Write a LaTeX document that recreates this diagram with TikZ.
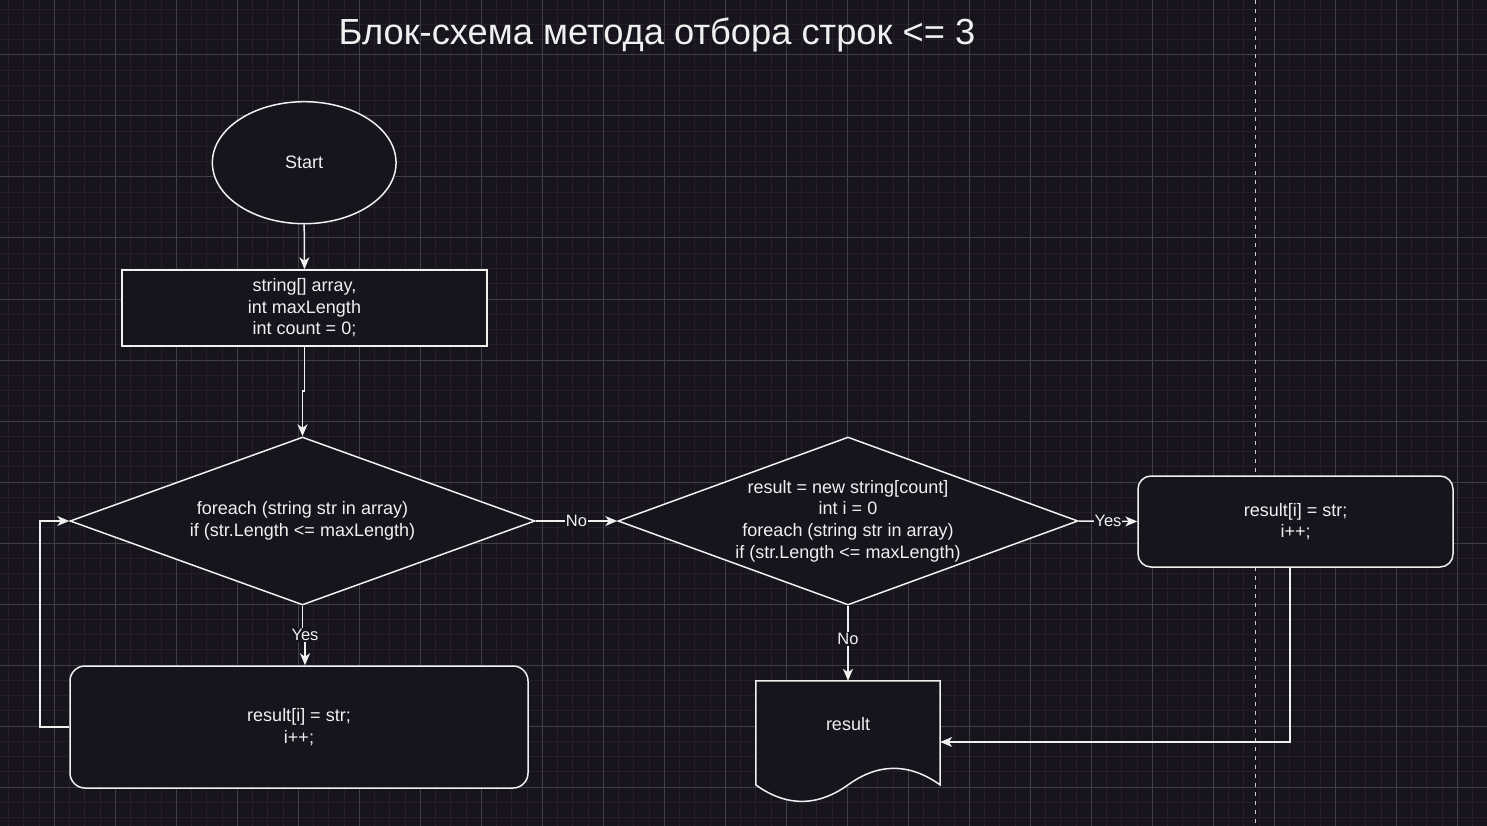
\documentclass[tikz,border=0pt]{standalone}
\usepackage{fontspec}
\setmainfont{Liberation Sans}
\usetikzlibrary{shapes.geometric,arrows.meta,calc}
\definecolor{bg}{HTML}{18141D}
\definecolor{fg}{HTML}{F0F0F0}
\definecolor{minorgrid}{HTML}{241F29}
\definecolor{majorgrid}{HTML}{423E47}
\tikzset{
  box/.style={draw=fg,fill=bg,line width=1.5pt,text=fg,align=center,inner sep=0pt,
    font=\fontsize{18}{21.6}\selectfont},
  conn/.style={draw=fg,line width=1.5pt,-{Stealth[length=12pt,width=10pt,inset=3.5pt]}},
  plain/.style={draw=fg,line width=1.5pt},
  lbl/.style={fill=bg,text=fg,inner sep=1pt,font=\fontsize{16.5}{19}\selectfont},
}
\begin{document}
\begin{tikzpicture}[x=1pt,y=-1pt]
\useasboundingbox (0,0) rectangle (1487,826);
\fill[bg] (0,0) rectangle (1487,826);
% grid
\foreach \i in {0,...,98} \draw[minorgrid,line width=1pt] ({-6.7+15.25*\i},0) -- ({-6.7+15.25*\i},826);
\foreach \i in {0,...,55} \draw[minorgrid,line width=1pt] (0,{-6+15.25*\i}) -- (1487,{-6+15.25*\i});
\foreach \i in {0,...,25} \draw[majorgrid,line width=1pt] ({-6.7+61*\i},0) -- ({-6.7+61*\i},826);
\foreach \i in {0,...,14} \draw[majorgrid,line width=1pt] (0,{-6+61*\i}) -- (1487,{-6+61*\i});
% dashed divider
\draw[fg!85!bg,line width=1.5pt,dash pattern=on 4pt off 5pt] (1255.3,0) -- (1255.3,826);

% title
\node[text=fg,font=\fontsize{36.3}{40}\selectfont,inner sep=0pt] (title) at (657,35) {Блок-схема метода отбора строк <= 3};

% nodes
\node[box,ellipse,minimum width=183.7pt,minimum height=122pt] (start) at (304.2,162.7) {Start};
\node[box,rectangle,minimum width=365pt,minimum height=76pt] (init) at (304.5,308) {string[] array,\\int maxLength\\int count = 0;};
\node[box,diamond,minimum width=465pt,minimum height=168pt,aspect=2.77] (d1) at (302.5,521) {foreach (string str in array)\\if (str.Length <= maxLength)};
\node[box,rectangle,rounded corners=15pt,minimum width=458pt,minimum height=122pt] (body1) at (299,727) {result[i] = str;\\i++;};
\node[box,diamond,minimum width=460pt,minimum height=168pt,aspect=2.74] (d2) at (848,521) {result = new string[count]\\int i = 0\\foreach (string str in array)\\if (str.Length <= maxLength)};
\node[box,rectangle,rounded corners=13pt,minimum width=315pt,minimum height=91pt] (body2) at (1295.5,521.5) {result[i] = str;\\i++;};
% document shape
\node[rectangle,inner sep=0pt,minimum width=184pt,minimum height=122pt] (doc) at (848,742) {};
\filldraw[plain,fill=bg,line join=miter] (doc.north west) -- (doc.north east) -- ([yshift=18.3pt]doc.south east)
  .. controls ($(doc.south west)+(153.3,-40.4)$) and ($(doc.south west)+(122.7,-40.4)$) .. ([yshift=18.3pt]doc.south)
  .. controls ($(doc.south west)+(61.3,3.7)$) and ($(doc.south west)+(30.7,3.7)$) .. ([yshift=18.3pt]doc.south west) -- cycle;
\node[text=fg,font=\fontsize{18}{21.6}\selectfont,inner sep=0pt] (doclabel) at (848,724) {result};

% connectors
\draw[conn] (start.south) -- (init.north);
\coordinate (j1) at (304.5,391);
\coordinate (j2) at (302.5,391);
\draw[conn] (init.south) -- (j1) -- (j2) -- (d1.north);
\coordinate (y1) at (302.5,635);
\coordinate (y2) at (305,635);
\draw[conn] (d1.south) -- (y1) -- (y2) -- (y2 |- body1.north);
\node[lbl] (lyes1) at (305,635) {Yes};
\coordinate (l1) at (40,727);
\coordinate (l2) at (40,521);
\draw[conn] (body1.west) -- (l1) -- (l2) -- (d1.west);
\draw[conn] (d1.east) -- (d2.west) node[lbl,midway] (lno1) {No};
\draw[conn] (d2.east) -- (body2.west) node[lbl,midway] (lyes2) {Yes};
\draw[conn] (d2.south) -- (doc.north) node[lbl,pos=0.44] (lno2) {No};
\coordinate (r1) at (1290,567);
\coordinate (r2) at (1290,742);
\draw[conn] (r1) -- (r2) -- (doc.east);
\end{tikzpicture}
\end{document}
